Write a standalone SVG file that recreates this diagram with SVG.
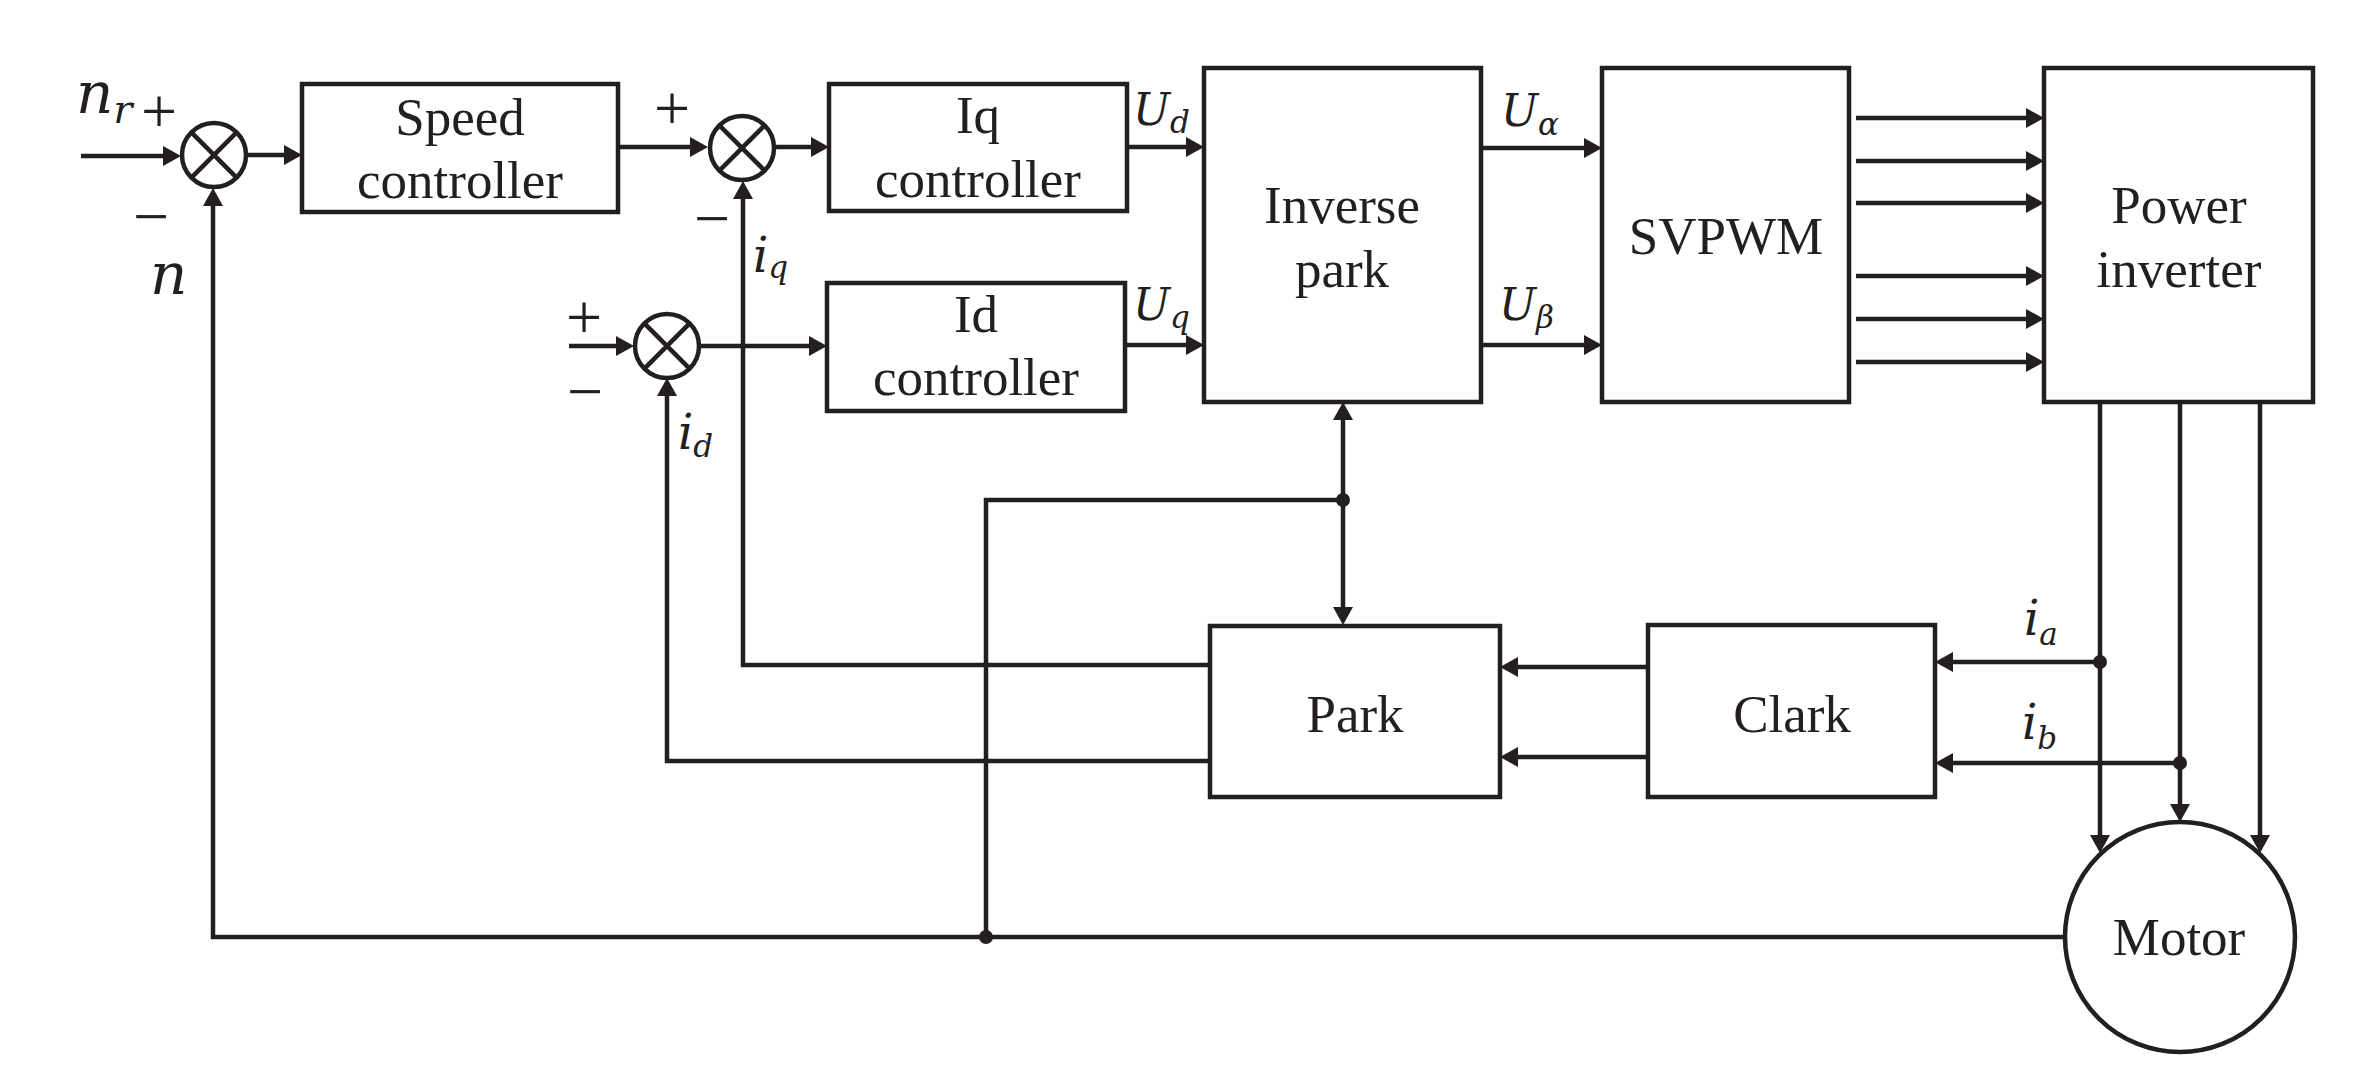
<svg xmlns="http://www.w3.org/2000/svg" width="2372" height="1080" viewBox="0 0 2372 1080">
<style>
.box{fill:#fff;stroke:#231f20;stroke-width:4.5}
.sum{fill:#fff;stroke:#231f20;stroke-width:4.5}
.x{stroke:#231f20;stroke-width:4.5}
.ln{fill:none;stroke:#231f20;stroke-width:4.5}
.ar{marker-end:url(#ah)}
.t{font-family:"Liberation Serif","Times New Roman",serif;font-size:53px;fill:#231f20;text-anchor:middle}
.s{font-family:"Liberation Serif","Times New Roman",serif;font-size:64px;fill:#231f20;text-anchor:middle}
.m{font-family:"DejaVu Serif",serif;font-style:italic;font-size:44px;fill:#231f20}
.i{font-size:48px}
.big{font-size:58px}
.sub{font-size:31px}
.bsub{font-size:40px}
.dot{fill:#231f20}
</style>
<defs>
<marker id="ah" markerUnits="userSpaceOnUse" markerWidth="18" markerHeight="20" refX="10" refY="10" orient="auto">
<path d="M0,0 L18,10 L0,20 z" fill="#231f20"/>
</marker>
</defs>
<rect width="2372" height="1080" fill="#fff"/>

<g id="connectors">
<path class="ln ar" d="M81,156 H173"/>
<path class="ln ar" d="M247,155 H294"/>
<path class="ln ar" d="M618,147 H700"/>
<path class="ln ar" d="M776,147 H821"/>
<path class="ln ar" d="M1127,147 H1196"/>
<path class="ln ar" d="M1125,345 H1196"/>
<path class="ln ar" d="M569,346 H626"/>
<path class="ln ar" d="M700,346 H819"/>
<path class="ln ar" d="M1481,148 H1594"/>
<path class="ln ar" d="M1481,345 H1594"/>
<path class="ln ar" d="M1856,118 H2036"/>
<path class="ln ar" d="M1856,161 H2036"/>
<path class="ln ar" d="M1856,203 H2036"/>
<path class="ln ar" d="M1856,276 H2036"/>
<path class="ln ar" d="M1856,319 H2036"/>
<path class="ln ar" d="M1856,362 H2036"/>
<path class="ln ar" d="M2100,402 V845"/>
<path class="ln ar" d="M2180,402 V814"/>
<path class="ln ar" d="M2260,402 V845"/>
<path class="ln ar" d="M2100,662 H1943"/>
<path class="ln ar" d="M2180,763 H1943"/>
<path class="ln ar" d="M1648,667 H1508"/>
<path class="ln ar" d="M1648,757 H1508"/>
<path class="ln ar" d="M1210,665 H743 V189"/>
<path class="ln ar" d="M1210,761 H667 V386"/>
<path class="ln ar" d="M2065,937 H213 V196"/>
<path class="ln" d="M986,937 V500 H1343"/>
<path class="ln ar" d="M1343,500 V410"/>
<path class="ln ar" d="M1343,500 V617"/>
<circle class="dot" cx="986" cy="937" r="7"/>
<circle class="dot" cx="1343" cy="500" r="7"/>
<circle class="dot" cx="2100" cy="662" r="7"/>
<circle class="dot" cx="2180" cy="763" r="7"/>
</g>

<g id="sum1">
<circle class="sum" cx="214" cy="155" r="32"/>
<path class="x" d="M191.4,132.4 L236.6,177.6 M236.6,132.4 L191.4,177.6"/>
</g>
<g id="sum2">
<circle class="sum" cx="742" cy="148" r="32"/>
<path class="x" d="M719.4,125.4 L764.6,170.6 M764.6,125.4 L719.4,170.6"/>
</g>
<g id="sum3">
<circle class="sum" cx="667" cy="346" r="32"/>
<path class="x" d="M644.4,323.4 L689.6,368.6 M689.6,323.4 L644.4,368.6"/>
</g>

<g id="speed">
<rect class="box" x="302" y="84" width="316" height="128"/>
<text class="t" x="460" y="135">Speed</text>
<text class="t" x="460" y="198">controller</text>
</g>
<g id="iq">
<rect class="box" x="829" y="84" width="298" height="127"/>
<text class="t" x="978" y="133">Iq</text>
<text class="t" x="978" y="197">controller</text>
</g>
<g id="id">
<rect class="box" x="827" y="283" width="298" height="128"/>
<text class="t" x="976" y="332">Id</text>
<text class="t" x="976" y="395">controller</text>
</g>
<g id="invpark">
<rect class="box" x="1204" y="68" width="277" height="334"/>
<text class="t" x="1342" y="223">Inverse</text>
<text class="t" x="1342" y="287">park</text>
</g>
<g id="svpwm">
<rect class="box" x="1602" y="68" width="247" height="334"/>
<text class="t" x="1726" y="254">SVPWM</text>
</g>
<g id="inverter">
<rect class="box" x="2044" y="68" width="269" height="334"/>
<text class="t" x="2179" y="223">Power</text>
<text class="t" x="2179" y="287">inverter</text>
</g>
<g id="park">
<rect class="box" x="1210" y="626" width="290" height="171"/>
<text class="t" x="1355" y="732">Park</text>
</g>
<g id="clark">
<rect class="box" x="1648" y="625" width="287" height="172"/>
<text class="t" x="1792" y="732">Clark</text>
</g>
<g id="motor">
<circle class="box" cx="2180" cy="937" r="115"/>
<text class="t" x="2179" y="955">Motor</text>
</g>

<g id="labels">
<text class="m big" x="76" y="113">n<tspan class="bsub" dy="10">r</tspan></text>
<text class="m big" x="150" y="294">n</text>
<text class="s" x="159" y="133">+</text>
<text class="s" x="151" y="238">−</text>
<text class="s" x="672" y="130">+</text>
<text class="s" x="712" y="240">−</text>
<text class="s" x="584" y="339">+</text>
<text class="s" x="585" y="413">−</text>
<text class="m i" x="753" y="272">i<tspan class="sub" dy="6">q</tspan></text>
<text class="m i" x="678" y="449">i<tspan class="sub" dy="8">d</tspan></text>
<text class="m i" x="2024" y="635">i<tspan class="sub" dy="10">a</tspan></text>
<text class="m i" x="2022" y="739">i<tspan class="sub" dy="10">b</tspan></text>
<text class="m" x="1133" y="125">U<tspan class="sub" dy="8">d</tspan></text>
<text class="m" x="1133" y="320">U<tspan class="sub" dy="8">q</tspan></text>
<text class="m" x="1501" y="126">U<tspan class="sub" dy="9">α</tspan></text>
<text class="m" x="1499" y="320">U<tspan class="sub" dy="8">β</tspan></text>
</g>
</svg>
